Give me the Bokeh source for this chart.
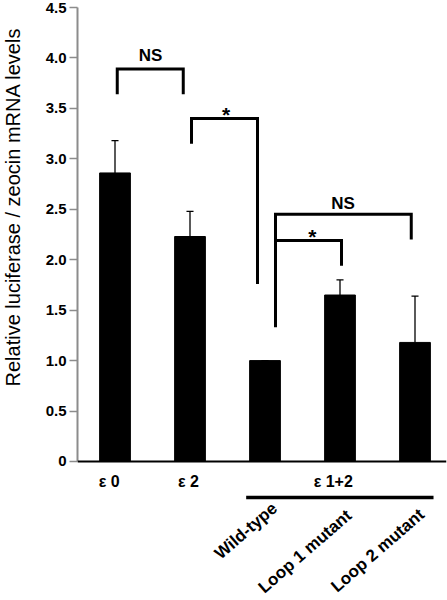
from bokeh.plotting import figure
from bokeh.models import Range1d, FixedTicker, Span, ColumnDataSource, Title
from bokeh.core.properties import value
from bokeh.embed import file_html
from bokeh.resources import INLINE

# ---------------- data ----------------
bar_names = ["ε 0", "ε 2", "Wild-type", "Loop 1  mutant", "Loop 2  mutant"]
means = [2.86, 2.23, 1.00, 1.65, 1.18]
errors = [0.32, 0.25, 0.0, 0.15, 0.46]

y_ticks = [0, 0.5, 1.0, 1.5, 2.0, 2.5, 3.0, 3.5, 4.0, 4.5]
y_tick_labels = ["0", "0.5", "1.0", "1.5", "2.0", "2.5", "3.0", "3.5", "4.0", "4.5"]
y_title = "Relative luciferase / zeocin mRNA levels"

group_labels = ["ε 0", "ε 2", "ε 1+2"]
sub_labels = ["Wild-type", "Loop 1  mutant", "Loop 2  mutant"]

# significance brackets (bar-index space / y value space)
br_left = [0.03, 1.02, 2.14, 2.14]
br_right = [0.91, 1.90, 3.95, 3.02]
br_top = [3.89, 3.40, 2.45, 2.19]
br_left_end = [3.64, 3.15, 1.33, 2.19]
br_right_end = [3.64, 1.76, 2.20, 1.94]
br_text = ["NS", "*", "NS", "*"]

# ---------------- layout constants ----------------
FONT = "Liberation Sans"
W, H = 447, 600
x = list(range(len(means)))

p = figure(width=W, height=H, output_backend="svg", toolbar_location=None,
           x_range=Range1d(-0.5, 4.42), y_range=Range1d(-1.378, 4.5),
           x_axis_location=None, min_border_left=77, min_border_right=1,
           min_border_top=7, min_border_bottom=0)
p.outline_line_color = None
p.grid.visible = False
p.background_fill_color = "white"
p.border_fill_color = "white"

# y axis
ax = p.yaxis[0]
ax.ticker = FixedTicker(ticks=y_ticks)
ax.major_label_overrides = {t: l for t, l in zip(y_ticks, y_tick_labels)}
ax.bounds = (0, 4.5)
ax.axis_line_color = "#8c8c8c"
ax.axis_line_width = 2
ax.major_tick_line_color = "#8c8c8c"
ax.major_tick_line_width = 1.5
ax.major_tick_out = 8
ax.major_tick_in = 0
ax.minor_tick_line_color = None
ax.major_label_standoff = 3
ax.major_label_text_font = FONT
ax.major_label_text_font_style = "bold"
ax.major_label_text_font_size = "15px"
ax.major_label_text_color = "black"

# spacer between the tick labels and the y title
p.add_layout(Title(text=" ", text_font_size="1px", standoff=13), "left")
# y title as a side title (left panel)
p.add_layout(Title(text=y_title, align="left", offset=214, vertical_align="top",
                   standoff=2, text_font=FONT, text_font_style="normal",
                   text_font_size="20px", text_color="black"), "left")

# bars
src = ColumnDataSource(dict(x=x, top=means,
                            etop=[m + e for m, e in zip(means, errors)]))
p.vbar(x="x", top="top", bottom=0, width=0.41, source=src,
       fill_color="black", line_color="black")

# error bars (upper only)
p.segment(x0="x", y0="top", x1="x", y1="etop", source=src,
          line_color="black", line_width=1.3)
cap = 0.047
p.segment(x0=[v - cap for v in x], y0=src.data["etop"],
          x1=[v + cap for v in x], y1=src.data["etop"],
          line_color="black", line_width=1.3)

# x axis line
p.add_layout(Span(location=0, dimension="width", line_color="black", line_width=2))

# brackets
xs = [[a, a, b, b] for a, b in zip(br_left, br_right)]
ys = [[le, t, t, re] for le, t, re in zip(br_left_end, br_top, br_right_end)]
p.multi_line(xs=xs, ys=ys, line_color="black", line_width=3,
             line_join="miter", line_cap="butt")

lab_x = [0.475, 1.48, 3.04, 2.63]
lab_y = [4.02, 3.44, 2.56, 2.23]
lab_size = ["17px", "21px", "17px", "21px"]
p.text(x=lab_x, y=lab_y, text=br_text, text_align="center",
       text_baseline="middle", text_font=value(FONT), text_font_style="bold",
       text_font_size=lab_size, text_color="black")

# group labels under axis
p.text(x=[-0.077, 0.98, 2.91], y=[-0.198] * 3, text=group_labels,
       text_align="center", text_baseline="middle", text_font=value(FONT),
       text_font_style="bold", text_font_size="16px", text_color="black")

# underline for ε 1+2 group
p.segment(x0=[1.749], y0=[-0.357], x1=[4.247], y1=[-0.357],
          line_color="black", line_width=3.5)

# rotated sub labels
p.text(x=[2.13, 3.17, 4.14], y=[-0.44, -0.48, -0.47], text=sub_labels,
       angle=41, angle_units="deg", text_align="right", text_baseline="middle",
       text_font=value(FONT), text_font_style="bold", text_font_size="17px",
       text_color="black")

open("out.html", "w").write(file_html(p, INLINE))
